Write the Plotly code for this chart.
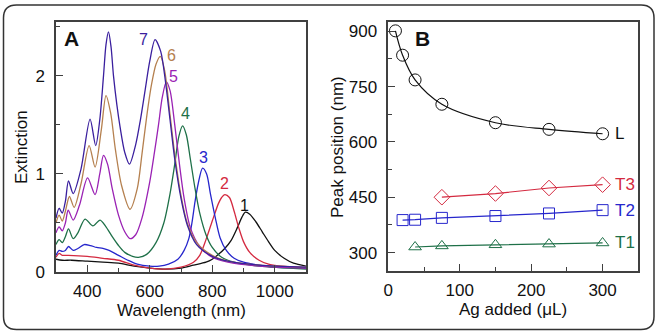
import plotly.graph_objects as go

# ---------------- Panel A data (extinction spectra) ----------------
wl_1 = [300, 320, 350, 400, 450, 500, 550, 600, 650, 700, 740, 780, 800, 820, 840, 860, 880, 895, 906, 920, 940, 960, 980, 1000, 1030, 1060, 1100]
ext_1 = [0.13, 0.12, 0.12, 0.11, 0.10, 0.09, 0.06, 0.04, 0.03, 0.04, 0.07, 0.10, 0.13, 0.18, 0.24, 0.32, 0.45, 0.56, 0.61, 0.59, 0.51, 0.41, 0.31, 0.22, 0.14, 0.09, 0.06]

wl_2 = [300, 310, 320, 340, 400, 450, 500, 550, 600, 650, 700, 740, 760, 780, 800, 820, 830, 840, 855, 870, 885, 900, 920, 950, 980, 1020, 1100]
ext_2 = [0.15, 0.19, 0.17, 0.17, 0.16, 0.14, 0.12, 0.07, 0.04, 0.03, 0.05, 0.10, 0.17, 0.33, 0.52, 0.70, 0.76, 0.79, 0.76, 0.62, 0.45, 0.31, 0.20, 0.12, 0.08, 0.06, 0.04]

wl_3 = [300, 310, 320, 330, 340, 355, 370, 390, 410, 430, 450, 470, 500, 530, 560, 600, 630, 660, 690, 710, 725, 735, 745, 755, 769, 782, 794, 810, 825, 845, 870, 900, 950, 1000, 1100]
ext_3 = [0.17, 0.22, 0.21, 0.22, 0.26, 0.22, 0.24, 0.28, 0.27, 0.25, 0.24, 0.22, 0.17, 0.12, 0.08, 0.06, 0.06, 0.08, 0.13, 0.22, 0.34, 0.50, 0.72, 0.90, 1.06, 1.00, 0.80, 0.55, 0.35, 0.22, 0.14, 0.10, 0.07, 0.05, 0.04]

wl_4 = [300, 310, 320, 330, 340, 355, 370, 393, 418, 441, 460, 480, 500, 520, 545, 564, 590, 620, 645, 665, 680, 693, 705, 717, 730, 745, 760, 780, 800, 830, 870, 950, 1100]
ext_4 = [0.28, 0.33, 0.30, 0.36, 0.44, 0.34, 0.40, 0.54, 0.47, 0.53, 0.46, 0.36, 0.27, 0.20, 0.16, 0.15, 0.18, 0.30, 0.50, 0.80, 1.10, 1.38, 1.49, 1.40, 1.15, 0.85, 0.60, 0.38, 0.25, 0.15, 0.10, 0.06, 0.03]

wl_5 = [300, 310, 320, 330, 339, 355, 375, 401, 425, 440, 452, 465, 480, 500, 520, 537, 555, 575, 600, 615, 628, 640, 653, 665, 680, 695, 710, 730, 760, 800, 850, 950, 1100]
ext_5 = [0.40, 0.46, 0.42, 0.50, 0.63, 0.53, 0.68, 0.96, 0.79, 1.00, 1.19, 1.10, 0.85, 0.58, 0.41, 0.34, 0.38, 0.55, 0.92, 1.22, 1.50, 1.78, 1.94, 1.85, 1.50, 1.10, 0.75, 0.45, 0.26, 0.15, 0.10, 0.06, 0.04]

wl_6 = [300, 310, 320, 330, 343, 358, 380, 406, 425, 445, 460, 475, 490, 510, 537, 560, 575, 590, 605, 620, 634, 648, 665, 680, 700, 720, 750, 800, 850, 950, 1100]
ext_6 = [0.50, 0.58, 0.52, 0.62, 0.77, 0.66, 0.90, 1.29, 1.07, 1.45, 1.80, 1.62, 1.25, 0.88, 0.64, 0.85, 1.20, 1.58, 1.90, 2.12, 2.20, 2.05, 1.60, 1.20, 0.78, 0.50, 0.30, 0.17, 0.11, 0.07, 0.05]

wl_7 = [300, 310, 320, 330, 340, 355, 380, 409, 427, 440, 452, 460, 468, 476, 484, 495, 505, 520, 535, 555, 570, 585, 600, 617, 635, 650, 665, 680, 700, 720, 750, 800, 850, 950, 1100]
ext_7 = [0.55, 0.65, 0.60, 0.72, 0.93, 0.80, 1.05, 1.56, 1.29, 1.55, 2.00, 2.32, 2.45, 2.30, 2.00, 1.70, 1.48, 1.22, 1.10, 1.30, 1.55, 1.85, 2.15, 2.37, 2.25, 1.95, 1.55, 1.15, 0.75, 0.48, 0.28, 0.16, 0.11, 0.07, 0.05]

spectra_labels = ["1", "2", "3", "4", "5", "6", "7"]
spectra_colors = ["#111111", "#d42a40", "#2626cc", "#1e7048", "#9a22b4", "#b5804f", "#3a1f9e"]
label_wl = [904, 838, 773, 713, 676, 671, 580]
label_ext = [0.68, 0.90, 1.17, 1.62, 1.99, 2.21, 2.37]

# ---------------- Panel B data (peak positions) ----------------
ag_L = [10, 20, 37.5, 75, 150, 225, 300]
peak_L = [901, 835, 768, 702, 652, 634, 622]
ag_T3 = [75, 150, 225, 300]
peak_T3 = [450, 460, 475, 484]
ag_T2 = [20, 37.5, 75, 150, 225, 300]
peak_T2 = [388, 389, 394, 399, 406, 415]
ag_T1 = [37.5, 75, 150, 225, 300]
peak_T1 = [315, 318, 321, 323, 326]
series_B = ["L", "T3", "T2", "T1"]
colors_B = ["#111111", "#d42a40", "#2626cc", "#1e7048"]
symbols_B = ["circle-open", "diamond-open", "square-open", "triangle-up-open"]

FONT = "Liberation Sans, Arial, sans-serif"
W, H = 660, 335

fig = go.Figure()

spectra = [(wl_1, ext_1), (wl_2, ext_2), (wl_3, ext_3), (wl_4, ext_4),
           (wl_5, ext_5), (wl_6, ext_6), (wl_7, ext_7)]
for (wl, ex), c in zip(spectra, spectra_colors):
    fig.add_trace(go.Scatter(x=wl, y=ex, mode="lines",
                             line=dict(color=c, width=1.3, shape="spline", smoothing=0.8),
                             xaxis="x", yaxis="y", showlegend=False, hoverinfo="skip"))

for lab, c, xv, yv in zip(spectra_labels, spectra_colors, label_wl, label_ext):
    fig.add_annotation(x=xv, y=yv, xref="x", yref="y", text=lab, showarrow=False,
                       xanchor="center", yanchor="middle",
                       font=dict(family=FONT, size=16, color=c))

B_data = [(ag_L, peak_L), (ag_T3, peak_T3), (ag_T2, peak_T2), (ag_T1, peak_T1)]
for name, (xs, ys), c, sym in zip(series_B, B_data, colors_B, symbols_B):
    shape = "spline" if name == "L" else "linear"
    size = 12 if name in ("L", "T3") else 11
    fig.add_trace(go.Scatter(x=xs, y=ys, mode="lines+markers",
                             line=dict(color=c, width=1.2, shape=shape),
                             marker=dict(symbol=sym, size=size, color=c, line=dict(width=1, color=c)),
                             xaxis="x2", yaxis="y2", showlegend=False, hoverinfo="skip"))
    fig.add_annotation(x=315, y=ys[-1], xref="x2", yref="y2", text=name, showarrow=False,
                       xanchor="left", yanchor="middle",
                       font=dict(family=FONT, size=17, color=c))

def px_x(p):
    return p / W

def px_y(p):
    return 1 - p / H

axis_common = dict(showline=True, linecolor="#404040", linewidth=1.5, mirror=True,
                   ticks="inside", ticklen=7, tickwidth=1.2, tickcolor="#404040",
                   showgrid=False, zeroline=False, automargin=False,
                   tickfont=dict(family=FONT, size=17, color="#111111"))

fig.update_layout(
    template="none",
    width=W, height=H,
    margin=dict(l=0, r=0, t=0, b=0, pad=0, autoexpand=False),
    paper_bgcolor="white", plot_bgcolor="white",
    xaxis=dict(domain=[px_x(56), px_x(306)], range=[300, 1100], anchor="y",
               tick0=0, dtick=200, minor=dict(ticks="inside", ticklen=4, dtick=100, tickcolor="#404040"),
               ticklabelstandoff=3, **axis_common),
    yaxis=dict(domain=[px_y(272), px_y(22)], range=[0, 2.55], anchor="x",
               tick0=0, dtick=1, minor=dict(ticks="inside", ticklen=4, dtick=0.5, tickcolor="#404040"),
               ticklabelstandoff=6, **axis_common),
    xaxis2=dict(domain=[px_x(388.3), px_x(638.3)], range=[0, 350], anchor="y2",
                tick0=0, dtick=100, minor=dict(ticks="inside", ticklen=4, dtick=50, tickcolor="#404040"),
                ticklabelstandoff=3, **axis_common),
    yaxis2=dict(domain=[px_y(271), px_y(22)], range=[250, 925], anchor="x2",
                tick0=0, dtick=150, minor=dict(ticks="inside", ticklen=4, dtick=75, tickcolor="#404040"),
                ticklabelstandoff=6, **axis_common),
)

def paper_text(x, y, text, size, angle=0):
    fig.add_annotation(x=px_x(x), y=px_y(y), xref="paper", yref="paper", text=text,
                       textangle=angle, showarrow=False, xanchor="center", yanchor="middle",
                       font=dict(family=FONT, size=size, color="#111111"))

# axis titles and panel letters
paper_text(21, 147, "Extinction", 17, -90)
paper_text(181, 310, "Wavelength (nm)", 17)
paper_text(337, 147, "Peak position (nm)", 17, -90)
paper_text(513, 309, "Ag added (\u03bcL)", 17)
paper_text(71.5, 38.5, "<b>A</b>", 21)
paper_text(422, 38.5, "<b>B</b>", 21)

# rounded outer frame
x0, x1 = px_x(3.5), px_x(654)
y0, y1 = px_y(329.5), px_y(5)
rx, ry = 13 / W, 13 / H
path = (f"M {x0+rx},{y1} L {x1-rx},{y1} Q {x1},{y1} {x1},{y1-ry} "
        f"L {x1},{y0+ry} Q {x1},{y0} {x1-rx},{y0} L {x0+rx},{y0} "
        f"Q {x0},{y0} {x0},{y0+ry} L {x0},{y1-ry} Q {x0},{y1} {x0+rx},{y1} Z")
fig.add_shape(type="path", path=path, xref="paper", yref="paper",
              line=dict(color="#333333", width=1.5))

fig.write_html("out.html", config={"displayModeBar": False},
               post_script="document.body.style.margin='0px';")
